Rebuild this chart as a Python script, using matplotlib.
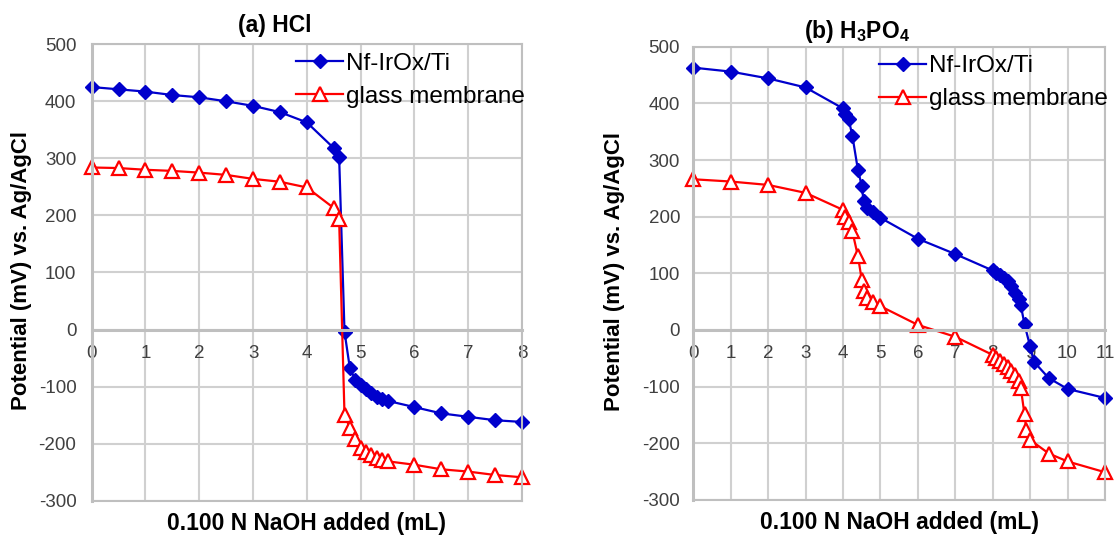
import matplotlib
matplotlib.use("Agg")
import matplotlib.pyplot as plt

plt.rcParams['font.family'] = ['Liberation Sans', 'DejaVu Sans']
plt.rcParams['mathtext.fontset'] = 'custom'
plt.rcParams['mathtext.rm'] = 'Liberation Sans'
plt.rcParams['mathtext.bf'] = 'Liberation Sans:bold'
plt.rcParams['axes.unicode_minus'] = False

# (a) HCl titration
hcl_x = [0, 0.5, 1, 1.5, 2, 2.5, 3, 3.5, 4, 4.5, 4.6, 4.7, 4.8, 4.9, 5.0,
         5.1, 5.2, 5.3, 5.4, 5.5, 6, 6.5, 7, 7.5, 8]
hcl_irox = [425, 421, 417, 411, 407, 400, 392, 381, 363, 318, 303, -4, -68, -88, -97,
            -105, -112, -118, -122, -125, -136, -147, -153, -159, -162]
hcl_glass = [284, 283, 280, 278, 275, 271, 264, 259, 249, 213, 193, -150, -172, -192, -208,
             -215, -220, -225, -228, -231, -237, -245, -249, -255, -259]

# (b) H3PO4 titration
h3po4_x_irox = [0, 1, 2, 3, 4, 4.05, 4.15, 4.25, 4.4, 4.5, 4.55, 4.65, 4.8, 5.0, 6, 7,
                8, 8.1, 8.2, 8.3, 8.4, 8.5, 8.6, 8.7, 8.75, 8.85, 9.0, 9.1, 9.5, 10, 11]
h3po4_irox = [463, 456, 444, 428, 391, 381, 372, 343, 282, 255, 227, 216, 208, 198, 161, 134,
              105, 101, 97, 92, 86, 77, 65, 55, 44, 10, -29, -56, -85, -104, -120]
h3po4_x_glass = [0, 1, 2, 3, 4, 4.05, 4.15, 4.25, 4.4, 4.5, 4.55, 4.65, 4.8, 5.0, 6, 7,
                 8, 8.1, 8.2, 8.3, 8.4, 8.5, 8.6, 8.7, 8.75, 8.85, 8.9, 9.0, 9.5, 10, 11]
h3po4_glass = [266, 262, 256, 242, 212, 200, 191, 174, 130, 89, 68, 56, 50, 42, 9, -12,
               -44, -50, -55, -60, -66, -72, -80, -90, -102, -149, -176, -194, -218, -232, -251]

series_labels = ['Nf-IrOx/Ti', 'glass membrane']
y_ticks = list(range(-300, 501, 100))

BLUE = '#0000CC'
RED = '#FF0000'
GRID = '#d0d0d0'

fig = plt.figure(figsize=(11.15, 5.39), dpi=100)
ax1 = fig.add_axes([0.0822, 0.0711, 0.386, 0.8468])
ax2 = fig.add_axes([0.6218, 0.0724, 0.3692, 0.841])


def style_axes(ax, xmax, title, title_x, title_pad, ylab_x, leg_x, ypad):
    ax.set_xlim(0, xmax)
    ax.set_ylim(-300, 500)
    ax.set_xticks(range(0, xmax + 1))
    ax.set_yticks(y_ticks)
    ax.grid(True, color=GRID, linewidth=1.5)
    for s in ax.spines.values():
        s.set_color('#bfbfbf')
        s.set_linewidth(1.5)
    ax.spines['bottom'].set_position(('data', 0))
    ax.spines['bottom'].set_linewidth(2.2)
    ax.spines['left'].set_linewidth(2.2)
    ax.plot([0, 1], [0, 0], transform=ax.transAxes, color='#bfbfbf', lw=1.5, clip_on=False)
    ax.tick_params(axis='both', length=0, labelsize=13.5, colors='#404040')
    ax.tick_params(axis='x', pad=11)
    ax.tick_params(axis='y', pad=ypad)
    ax.set_title(title, fontsize=16.5, fontweight='bold', x=title_x, pad=title_pad)
    ax.set_ylabel('Potential (mV) vs. Ag/AgCl', fontsize=16, fontweight='bold')
    ax.yaxis.set_label_coords(ylab_x, 0.505)
    ax.set_xlabel('0.100 N NaOH added (mL)', fontsize=16.5, fontweight='bold', va='center')
    ax.xaxis.set_label_coords(0.5, -0.05)
    ax.legend(loc='upper left', bbox_to_anchor=(leg_x, 1.0), frameon=False, fontsize=17.5,
              handlelength=1.95, handletextpad=0.1, labelspacing=0.45, borderpad=0.35,
              borderaxespad=0)


ax1.plot(hcl_x, hcl_irox, color=BLUE, lw=1.6, marker='D', ms=7,
         label=series_labels[0], clip_on=False)
ax1.plot(hcl_x, hcl_glass, color=RED, lw=1.6, marker='^', ms=10, mfc='white',
         mec=RED, mew=1.6, label=series_labels[1], clip_on=False)
style_axes(ax1, 8, '(a) HCl', 0.426, 9, -0.138, 0.455, 11)

ax2.plot(h3po4_x_irox, h3po4_irox, color=BLUE, lw=1.6, marker='D', ms=7,
         label=series_labels[0], clip_on=False)
ax2.plot(h3po4_x_glass, h3po4_glass, color=RED, lw=1.6, marker='^', ms=10, mfc='white',
         mec=RED, mew=1.6, label=series_labels[1], clip_on=False)
style_axes(ax2, 11, r'(b) H$_\mathbf{3}$PO$_\mathbf{4}$', 0.398, 6, -0.166, 0.43, 9.5)

fig.savefig('out.png', dpi=100)
